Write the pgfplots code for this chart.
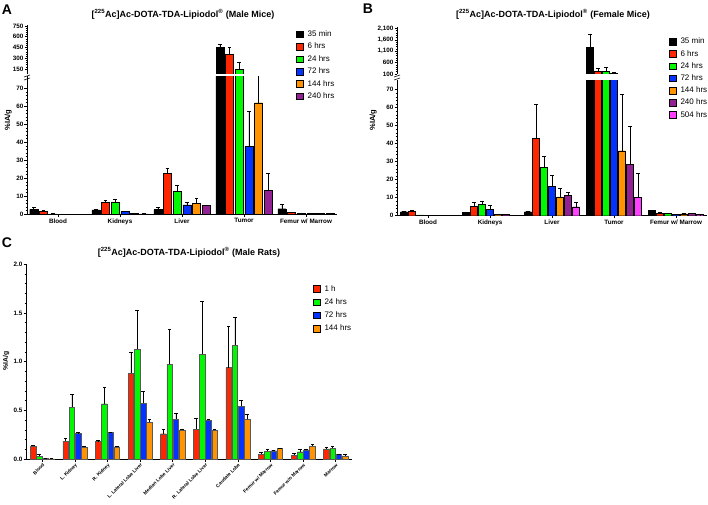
\documentclass[border=0pt]{standalone}
\usepackage{pgfplots}
\usepackage{pgfplotstable}
\pgfplotsset{compat=1.18}
\usepackage{fontspec}
\setmainfont{Liberation Sans}

\definecolor{cRed}{HTML}{FF2600}
\definecolor{cGreen}{HTML}{00F900}
\definecolor{cBlue}{HTML}{0433FF}
\definecolor{cOrange}{HTML}{FF9300}
\definecolor{cPurple}{HTML}{942193}
\definecolor{cPink}{HTML}{FF40FF}

% Panel A: male mice (rows: Blood, Kidneys, Liver, Tumor, Femur w/ Marrow)
\pgfplotstableread{
x  a     ae   b    be   c    ce   d    de   e    ee   f    fe
0  2.8   1.1  1.8  0.3  0.3  0.1  0.1  0    0.1  0    0.1  0
1  2.4   0.6  6.6  1.0  6.8  1.4  1.5  0.2  0.7  0.1  0.3  0.05
2  2.6   1.2  22.6 2.9  12.9 3.4  5.2  1.3  5.9  2.9  4.8  0.3
3  453   42   355  92   150  93   37.6 19.8 62   36   13.5 9.3
4  3.1   2.4  1.0  0.2  0.6  0.1  0.4  0.05 0.5  0.05 0.5  0.05
}\tabA

% Panel B: female mice
\pgfplotstableread{
x  a     ae   b    be   c    ce   d    de   e    ee   f    fe   g    ge
0  2.2   0.5  2.6  0.4  0.4  0.05 0.1  0    0.1  0    0.1  0    0.1  0
1  1.7   0.3  5.2  2.2  6.3  1.9  3.7  2.1  0.9  0.1  0.6  0.1  0.3  0.05
2  2.2   0.3  43   19   26.7 6.6  16.5 5.9  10.4 4.8  11.3 1.7  5.0  2.2
3  1297  544  245  105  232  144  157  31   36.1 31.3 28.5 21.3 10.2 13.5
4  2.8   0.2  1.4  0.3  1.2  0.3  0.8  0.1  1.1  0.2  1.2  0.1  0.6  0.05
}\tabB

% Panel C: male rats
\pgfplotstableread{
x  a     ae    b     be    c     ce    d     de
0  0.133 0.007 0.030 0.015 0.005 0     0.003 0
1  0.185 0.025 0.534 0.130 0.264 0.006 0.120 0.010
2  0.178 0.012 0.568 0.168 0.277 0.003 0.126 0.004
3  0.880 0.220 1.126 0.397 0.572 0.128 0.377 0.031
4  0.260 0.045 0.975 0.360 0.410 0.059 0.298 0.012
5  0.305 0.113 1.075 0.544 0.397 0.013 0.295 0.015
6  0.940 0.420 1.170 0.285 0.544 0.056 0.408 0.054
7  0.050 0.015 0.082 0.023 0.085 0.010 0.110 0.005
8  0.040 0.015 0.075 0.025 0.095 0.010 0.133 0.015
9  0.103 0.017 0.112 0.023 0.045 0.003 0.033 0.012
}\tabC

\pgfplotsset{
  gpbase/.style={
    scale only axis, anchor=south west,
    axis line style={line width=0.8pt, -},
    every tick/.style={black, line width=0.6pt},
    tick align=outside, major tick length=2.5pt, minor tick length=1.4pt,
    /pgf/number format/assume math mode=true,
    yticklabel style={font=\fontsize{6.3}{7}\selectfont\bfseries, inner sep=1pt},
    xticklabel style={font=\fontsize{6.3}{7}\selectfont\bfseries, inner sep=1.5pt},
    xmin=-0.5, xmax=4.5, xtick={0,1,2,3,4},
  },
  ebar/.style={/pgfplots/error bars/.cd, y dir=plus, y explicit,
    error bar style={black, line width=0.5pt},
    error mark options={rotate=90, black, mark size=1.8pt, line width=0.5pt}, /pgfplots/.cd},
  bar/.style={fill=#1, draw=black, line width=0.4pt,
    /pgfplots/legend image code/.code={\draw[fill=#1, draw=black, line width=0.5pt] (0pt,-3.3pt) rectangle (6.6pt,3.3pt); \path (10pt,0pt);}, ebar},
  barc/.style={fill=#1, draw=black!65, line width=0.4pt,
    /pgfplots/legend image code/.code={\draw[fill=#1, draw=black, line width=0.5pt] (0pt,-3.3pt) rectangle (6.6pt,3.3pt); \path (10pt,0pt);}, ebar},
  ylab/.style n args={3}{every axis y label/.style={at={(axis description cs:#1,#2)}, rotate=90, anchor=center, font=\fontsize{#3}{9}\selectfont\bfseries}},
  leg/.style n args={3}{legend style={at={(axis description cs:#1,#2)}, anchor=north west, draw=none, fill=none,
    font=\fontsize{8}{9}\selectfont, row sep=#3, inner sep=0pt, nodes={inner sep=1pt}, cells={anchor=west}}},
}

\begin{document}
\begin{tikzpicture}
\path[use as bounding box] (0pt,0pt) rectangle (708pt,-504pt);

% ---------------- Panel A ----------------
\begin{axis}[gpbase, at={(27pt,-214.3pt)}, width=310pt, height=138.6pt,
  ymin=0, ymax=77, ytick={0,10,...,70}, minor y tick num=4,
  axis x line*=bottom, axis y line*=left,
  xticklabels={Blood,Kidneys,Liver,Tumor,{Femur w/ Marrow}},
  ybar=1.7pt, bar width=8pt,
  ylabel={\%IA/g}, ylab={-0.061}{0.68}{7.5}, leg={0.8677}{1.333}{3.1pt}]
\addplot[bar=black]   table[x=x,y=a,y error=ae]{\tabA};
\addplot[bar=cRed]    table[x=x,y=b,y error=be]{\tabA};
\addplot[bar=cGreen]  table[x=x,y=c,y error=ce]{\tabA};
\addplot[bar=cBlue]   table[x=x,y=d,y error=de]{\tabA};
\addplot[bar=cOrange] table[x=x,y=e,y error=ee]{\tabA};
\addplot[bar=cPurple] table[x=x,y=f,y error=fe]{\tabA};
\legend{35 min, 6 hrs, 24 hrs, 72 hrs, 144 hrs, 240 hrs}
\end{axis}
\begin{axis}[gpbase, at={(27pt,-74pt)}, width=310pt, height=48.7pt,
  ymin=80, ymax=760, ytick={150,300,...,750}, minor y tick num=4,
  restrict y to domain=80:100000,
  axis x line=none, axis y line*=left,
  ybar=1.7pt, bar width=8pt]
\addplot[bar=black]   table[x=x,y=a,y error=ae]{\tabA};
\addplot[bar=cRed]    table[x=x,y=b,y error=be]{\tabA};
\addplot[bar=cGreen]  table[x=x,y=c,y error=ce]{\tabA};
\addplot[bar=cBlue]   table[x=x,y=d,y error=de]{\tabA};
\addplot[bar=cOrange] table[x=x,y=e,y error=ee]{\tabA};
\addplot[bar=cPurple] table[x=x,y=f,y error=fe]{\tabA};
\end{axis}

% ---------------- Panel B ----------------
\begin{axis}[gpbase, at={(397pt,-215.7pt)}, width=310pt, height=135.7pt,
  ymin=0, ymax=75.4, ytick={0,10,...,70}, minor y tick num=4,
  axis x line*=bottom, axis y line*=left,
  xticklabels={Blood,Kidneys,Liver,Tumor,{Femur w/ Marrow}},
  ybar=1.2pt, bar width=6.8pt,
  ylabel={\%IA/g}, ylab={-0.0765}{0.705}{7.5}, leg={0.877}{1.317}{2.9pt}]
\addplot[bar=black]   table[x=x,y=a,y error=ae]{\tabB};
\addplot[bar=cRed]    table[x=x,y=b,y error=be]{\tabB};
\addplot[bar=cGreen]  table[x=x,y=c,y error=ce]{\tabB};
\addplot[bar=cBlue]   table[x=x,y=d,y error=de]{\tabB};
\addplot[bar=cOrange] table[x=x,y=e,y error=ee]{\tabB};
\addplot[bar=cPurple] table[x=x,y=f,y error=fe]{\tabB};
\addplot[bar=cPink]   table[x=x,y=g,y error=ge]{\tabB};
\legend{35 min, 6 hrs, 24 hrs, 72 hrs, 144 hrs, 240 hrs, 504 hrs}
\end{axis}
\begin{axis}[gpbase, at={(397pt,-74pt)}, width=310pt, height=46.7pt,
  ymin=100, ymax=2150, ytick={100,600,1100,1600,2100},
  yticklabels={100,600,{1,100},{1,600},{2,100}}, minor y tick num=4,
  restrict y to domain=100:100000,
  axis x line=none, axis y line*=left,
  ybar=1.2pt, bar width=6.8pt]
\addplot[bar=black]   table[x=x,y=a,y error=ae]{\tabB};
\addplot[bar=cRed]    table[x=x,y=b,y error=be]{\tabB};
\addplot[bar=cGreen]  table[x=x,y=c,y error=ce]{\tabB};
\addplot[bar=cBlue]   table[x=x,y=d,y error=de]{\tabB};
\addplot[bar=cOrange] table[x=x,y=e,y error=ee]{\tabB};
\addplot[bar=cPurple] table[x=x,y=f,y error=fe]{\tabB};
\addplot[bar=cPink]   table[x=x,y=g,y error=ge]{\tabB};
\end{axis}

% ---------------- Panel C ----------------
\begin{axis}[gpbase, at={(26pt,-459pt)}, width=326pt, height=194.7pt,
  xmin=-0.5, xmax=9.5, xtick={0,...,9},
  ymin=0, ymax=2.0, ytick={0,0.5,...,2.0}, minor y tick num=4,
  yticklabel style={/pgf/number format/.cd, fixed, fixed zerofill, precision=1},
  axis x line*=bottom, axis y line*=left,
  xticklabels={Blood,L. Kidney,R. Kidney,L. Lateral Lobe Liver,Median Lobe Liver,R. Lateral Lobe Liver,Caudate Lobe,Femur w/ Marrow,Femur w/o Marrow,Marrow},
  xticklabel style={rotate=45, anchor=north east, font=\fontsize{4.8}{5}\selectfont\bfseries, inner sep=1pt},
  ybar=0.7pt, bar width=5.5pt,
  ylabel={\%IA/g}, ylab={-0.061}{0.503}{6.8}, leg={0.88}{0.898}{3.9pt}]
\addplot[barc=cRed]    table[x=x,y=a,y error=ae]{\tabC};
\addplot[barc=cGreen]  table[x=x,y=b,y error=be]{\tabC};
\addplot[barc=cBlue]   table[x=x,y=c,y error=ce]{\tabC};
\addplot[barc=cOrange] table[x=x,y=d,y error=de]{\tabC};
\legend{1 h, 24 hrs, 72 hrs, 144 hrs}
\end{axis}

% white gap between the two segments of each broken axis (bar area only)
\fill[white] (28pt,-73.7pt) rectangle (285pt,-75.5pt);
\fill[white] (398pt,-73.7pt) rectangle (655pt,-79.8pt);

% axis breaks
\draw[line width=0.6pt] (24pt,-77pt) -- (30pt,-75pt);
\draw[line width=0.6pt] (24pt,-80pt) -- (30pt,-78pt);
\draw[line width=0.6pt] (394pt,-77pt) -- (400pt,-75pt);
\draw[line width=0.6pt] (394pt,-80pt) -- (400pt,-78pt);

% titles and panel letters
\node[font=\fontsize{14}{16}\selectfont\bfseries] at (7pt,-10pt) {A};
\node[font=\fontsize{14}{16}\selectfont\bfseries] at (368pt,-9pt) {B};
\node[font=\fontsize{14}{16}\selectfont\bfseries] at (7pt,-243pt) {C};
\node[font=\fontsize{9}{10}\selectfont\bfseries] at (183pt,-14pt) {[\textsuperscript{225}Ac]Ac-DOTA-TDA-Lipiodol\textsuperscript{®} (Male Mice)};
\node[font=\fontsize{9}{10}\selectfont\bfseries] at (553pt,-14pt) {[\textsuperscript{225}Ac]Ac-DOTA-TDA-Lipiodol\textsuperscript{®} (Female Mice)};
\node[font=\fontsize{9}{10}\selectfont\bfseries] at (189pt,-252pt) {[\textsuperscript{225}Ac]Ac-DOTA-TDA-Lipiodol\textsuperscript{®} (Male Rats)};
\end{tikzpicture}
\end{document}
